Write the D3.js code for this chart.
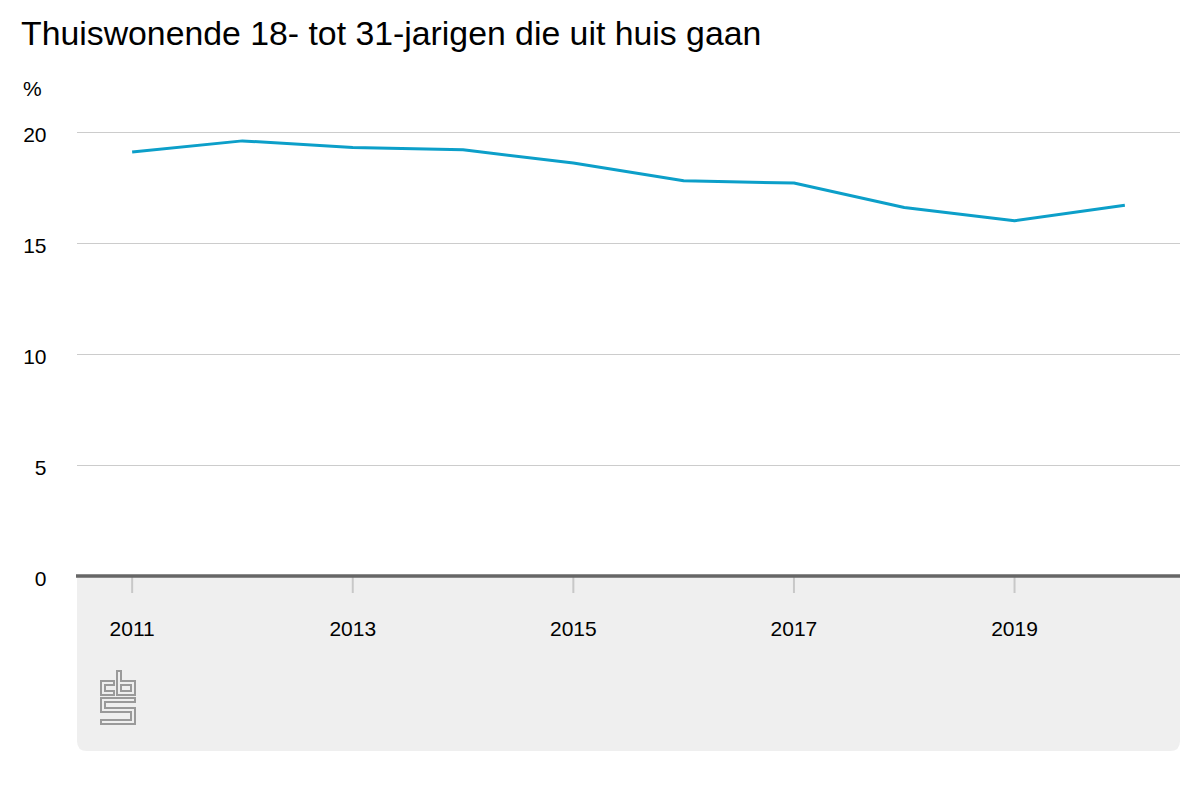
<!DOCTYPE html>
<html>
<head>
<meta charset="utf-8">
<title>Thuiswonende 18- tot 31-jarigen die uit huis gaan</title>
<script src="https://d3js.org/d3.v7.min.js"></script>
<style>
  body { margin: 0; background: #fff; }
  text { font-family: "Liberation Sans", Arial, sans-serif; fill: #000; }
</style>
</head>
<body>
<div id="chart"></div>
<script>
// data
var years = [2011, 2012, 2013, 2014, 2015, 2016, 2017, 2018, 2019, 2020]
var values = [19.1, 19.6, 19.3, 19.2, 18.6, 17.8, 17.7, 16.6, 16.0, 16.7]
var yTicks = [0, 5, 10, 15, 20]
var xTickYears = [2011, 2013, 2015, 2017, 2019]

var width = 1200, height = 800
var plot = {left: 77, right: 1180, top: 132, bottom: 576}

var svg = d3.select("#chart")
  .append("svg")
    .attr("width", width)
    .attr("height", height)

// title
svg.append("text")
  .attr("x", 21)
  .attr("y", 45)
  .style("font-size", "33.8px")
  .text("Thuiswonende 18- tot 31-jarigen die uit huis gaan")

// unit label
svg.append("text")
  .attr("x", 23)
  .attr("y", 96)
  .style("font-size", "21px")
  .text("%")

var x = d3.scalePoint()
  .domain(years)
  .range([plot.left, plot.right])
  .padding(0.5)

var y = d3.scaleLinear()
  .domain([0, 20])
  .range([plot.bottom, plot.top])

// grey panel under the axis, rounded bottom corners
var r = 10, pb = 751
svg.append("path")
  .attr("d", "M" + plot.left + "," + plot.bottom +
    " H" + plot.right +
    " V" + (pb - r) +
    " Q" + plot.right + "," + pb + " " + (plot.right - r) + "," + pb +
    " H" + (plot.left + r) +
    " Q" + plot.left + "," + pb + " " + plot.left + "," + (pb - r) + " Z")
  .attr("fill", "#efefef")

// y gridlines + labels
var yAxis = svg.append("g")
yAxis.selectAll("line")
  .data(yTicks.filter(function (d) { return d > 0 }))
  .join("line")
    .attr("x1", plot.left)
    .attr("x2", plot.right)
    .attr("y1", function (d) { return y(d) + 0.5 })
    .attr("y2", function (d) { return y(d) + 0.5 })
    .attr("stroke", "#cccccc")
    .attr("stroke-width", 1)
yAxis.selectAll("text")
  .data(yTicks)
  .join("text")
    .attr("x", 46.5)
    .attr("y", function (d) { return y(d) })
    .attr("dy", "0.48em")
    .style("text-anchor", "end")
    .style("font-size", "21px")
    .text(function (d) { return d })

// x ticks + labels
var xAxis = svg.append("g")
xAxis.selectAll("line")
  .data(xTickYears)
  .join("line")
    .attr("x1", function (d) { return x(d) })
    .attr("x2", function (d) { return x(d) })
    .attr("y1", plot.bottom)
    .attr("y2", plot.bottom + 17)
    .attr("stroke", "#c8c8c8")
    .attr("stroke-width", 2)
xAxis.selectAll("text")
  .data(xTickYears)
  .join("text")
    .attr("x", function (d) { return x(d) })
    .attr("y", 636)
    .style("text-anchor", "middle")
    .style("font-size", "21px")
    .text(function (d) { return d })

// baseline
svg.append("line")
  .attr("x1", plot.left - 1)
  .attr("x2", plot.right)
  .attr("y1", y(0))
  .attr("y2", y(0))
  .attr("stroke", "#666666")
  .attr("stroke-width", 3.5)

// the line
var line = d3.line()
  .x(function (d, i) { return x(years[i]) })
  .y(function (d) { return y(d) })

svg.append("path")
  .datum(values)
  .attr("d", line)
  .attr("fill", "none")
  .attr("stroke", "#0c9fc9")
  .attr("stroke-width", 3)
  .attr("stroke-linejoin", "round")

// cbs logo (outline letters)
var logo = svg.append("g")
  .attr("transform", "translate(100,670)")
  .attr("fill", "none")
  .attr("stroke", "#9a9a9a")
  .attr("stroke-width", 2)
logo.append("path")
  .attr("d", "M1,11 H14 V15 H5 V21 H14 V25 H1 Z")
logo.append("path")
  .attr("d", "M17,1 H21 V11 H35 V25 H17 Z M21,15 H31 V21 H21 Z")
logo.append("path")
  .attr("d", "M1,28 H35 V32 H5 V38 H35 V54 H1 V50 H31 V42 H1 Z")
</script>
</body>
</html>
